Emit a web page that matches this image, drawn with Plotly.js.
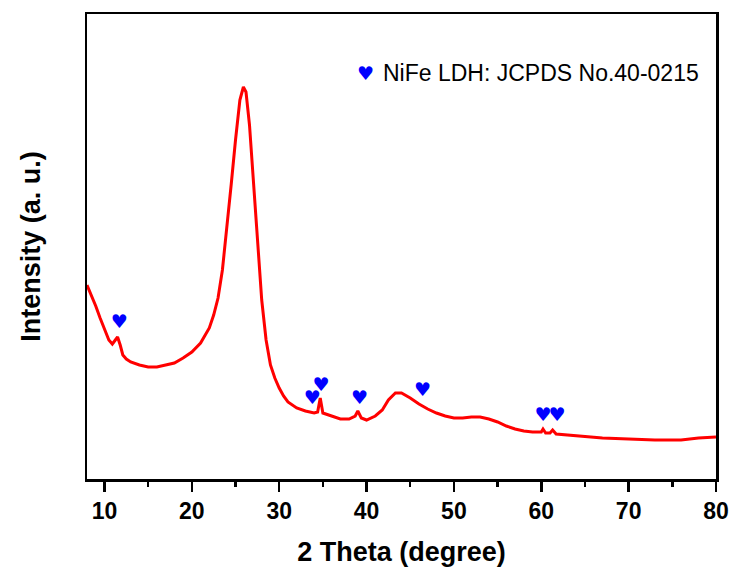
<!DOCTYPE html>
<html>
<head>
<meta charset="utf-8">
<script src="https://cdn.plot.ly/plotly-3.0.1.min.js"></script>
<style>html,body{margin:0;padding:0;background:#fff;}#chart{width:735px;height:572px;}</style>
</head>
<body>
<div id="chart"></div>
<script>
// XRD pattern (2 theta in degrees, intensity in arbitrary units)
var twoTheta = [8.0,8.5,9.0,9.5,10.0,10.5,10.9,11.2,11.5,11.8,12.1,12.5,13.0,14.0,15.0,16.0,17.0,18.0,19.0,20.0,21.0,22.0,22.5,23.0,23.5,24.0,24.5,25.0,25.5,25.9,26.2,26.6,27.0,27.5,28.0,28.5,29.0,29.5,30.0,30.5,31.0,32.0,33.0,34.0,34.4,34.7,35.0,36.0,37.0,38.0,38.7,39.0,39.4,40.0,41.0,41.8,42.5,43.3,44.0,45.0,46.0,47.0,48.0,49.0,50.0,51.0,52.0,53.0,54.0,55.0,56.0,57.0,58.0,59.0,60.0,60.2,60.5,61.0,61.3,61.7,63.0,65.0,67.0,70.0,73.0,76.0,78.0,80.0];
var intensityPx = [285,295,306,318,330,340,344,340,337,345,355,359,362,365,367,367,365,363,358,352,343,328,315,298,270,230,185,140,100,87,92,125,175,240,300,340,365,378,388,396,402,408,411,413,412,398,413,416,419,419,416,411,418,420,416,410,400,393,393,398,404,409,413,416,418,418,417,417,419,422,426,429,431,432,432,429,433,433,430,434,435,437,438,439,440,440,438,437];
var intensity = intensityPx.map(function(v){return 479 - v;});

// NiFe LDH reflection markers
var markerTheta = [11.7,33.8,34.8,39.2,46.4,60.2,61.8];
var markerIntensity = [156,80,93,80,88,63,63];

var legendLabel = "NiFe LDH: JCPDS No.40-0215";
var xTickVals = [10,20,30,40,50,60,70,80];

var traces = [
  {x: twoTheta, y: intensity, mode: 'lines', line: {color: '#ff0000', width: 3}, hoverinfo: 'skip'},
  {x: markerTheta, y: markerIntensity, mode: 'text', text: markerTheta.map(function(){return '\u2665';}),
   textposition: 'middle center', textfont: {family: 'DejaVu Sans', size: 19, color: '#0000ff'}, hoverinfo: 'skip'}
];

var layout = {
  width: 735, height: 572,
  margin: {l: 87, r: 19, t: 14, b: 93},
  paper_bgcolor: '#fff', plot_bgcolor: '#fff',
  showlegend: false,
  xaxis: {
    range: [8, 80], tickvals: xTickVals, ticks: 'outside', ticklen: 10, tickwidth: 2.5, tickcolor: '#000',
    minor: {dtick: 5, tick0: 0, ticks: 'outside', ticklen: 5, tickwidth: 2.5, tickcolor: '#000', showgrid: false},
    showline: true, linewidth: 2.5, linecolor: '#000', mirror: true, showgrid: false, zeroline: false,
    tickfont: {family: 'Liberation Sans, Arial', size: 23, color: '#000', weight: 'bold'},
    title: {text: '2 Theta (degree)', font: {family: 'Liberation Sans, Arial', size: 27, color: '#000', weight: 'bold'}, standoff: 19}
  },
  yaxis: {
    range: [0, 465], showticklabels: false, ticks: '', showline: true, linewidth: 2.5, linecolor: '#000', mirror: true,
    showgrid: false, zeroline: false,
    title: {text: 'Intensity (a. u.)', font: {family: 'Liberation Sans, Arial', size: 27, color: '#000', weight: 'bold'}, standoff: 36}
  },
  annotations: [
    {xref: 'paper', yref: 'paper', x: (365-87)/629, y: (479-73)/465, text: '\u2665', showarrow: false,
     font: {family: 'DejaVu Sans', size: 19, color: '#0000ff'}, xanchor: 'center', yanchor: 'middle'},
    {xref: 'paper', yref: 'paper', x: (381-87)/629, y: (479-73)/465, text: legendLabel, showarrow: false,
     font: {family: 'Liberation Sans, Arial', size: 23, color: '#000'}, xanchor: 'left', yanchor: 'middle'}
  ]
};

Plotly.newPlot('chart', traces, layout, {displayModeBar: false, staticPlot: true});
</script>
</body>
</html>
